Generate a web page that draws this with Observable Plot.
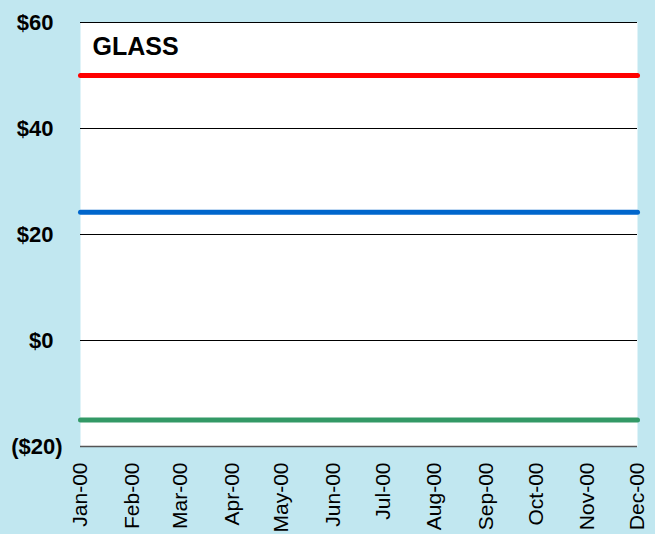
<!DOCTYPE html>
<html>
<head>
<meta charset="utf-8">
<script src="https://cdn.jsdelivr.net/npm/d3@7"></script>
<script src="https://cdn.jsdelivr.net/npm/@observablehq/plot@0.6"></script>
<style>
  html, body { margin: 0; padding: 0; background: #c1e7f0; }
  #chart svg { display: block; }
</style>
</head>
<body>
<div id="chart"></div>
<script>
const months = ["2000-01-01","2000-02-01","2000-03-01","2000-04-01","2000-05-01","2000-06-01","2000-07-01","2000-08-01","2000-09-01","2000-10-01","2000-11-01","2000-12-01"];
const monthLabels = ["Jan-00","Feb-00","Mar-00","Apr-00","May-00","Jun-00","Jul-00","Aug-00","Sep-00","Oct-00","Nov-00","Dec-00"];
const redValues   = [50,50,50,50,50,50,50,50,50,50,50,50];
const blueValues  = [24.2,24.2,24.2,24.2,24.2,24.2,24.2,24.2,24.2,24.2,24.2,24.2];
const greenValues = [-15,-15,-15,-15,-15,-15,-15,-15,-15,-15,-15,-15];
const yTicks = [-20, 0, 20, 40, 60];
const title = "GLASS";

const dates = months.map(d => new Date(d + "T00:00:00Z"));
const series = [
  {name: "s1", color: "#ff0000", values: redValues},
  {name: "s2", color: "#0066cc", values: blueValues},
  {name: "s3", color: "#339966", values: greenValues}
];
const rows = series.flatMap(s => s.values.map((v, i) => ({date: dates[i], value: v, s: s.name, c: s.color})));
const labelOf = new Map(dates.map((d, i) => [+d, monthLabels[i]]));
const fmtY = d => d < 0 ? `($${-d})` : `$${d}`;
const yOpts = {tickFormat: fmtY, tickSize: 0, fontSize: 22, fontWeight: "bold", label: null, fill: "#000"};

const chart = Plot.plot({
  width: 655,
  height: 534,
  marginLeft: 80,
  marginRight: 18,
  marginTop: 22,
  marginBottom: 88,
  style: {background: "#c1e7f0", fontFamily: "'Liberation Sans', Arial, sans-serif"},
  x: {type: "utc", domain: [dates[0], dates[dates.length - 1]]},
  y: {domain: [-20, 60]},
  marks: [
    Plot.frame({fill: "white", stroke: null}),
    Plot.ruleY(yTicks, {stroke: "#000", strokeWidth: 1}),
    Plot.ruleY([-20], {stroke: "#555", strokeWidth: 1.5}),
    Plot.line(rows, {x: "date", y: "value", z: "s", stroke: d => d.c, strokeWidth: 5, strokeLinecap: "round"}),
    Plot.axisY({...yOpts, ticks: yTicks.filter(d => d >= 0), tickPadding: 27}),
    Plot.axisY({...yOpts, ticks: yTicks.filter(d => d < 0), tickPadding: 18}),
    Plot.axisX({ticks: dates, tickFormat: d => labelOf.get(+d), tickSize: 0, tickPadding: 16, tickRotate: -90, fontSize: 21, label: null, fill: "#000"}),
    Plot.text([title], {frameAnchor: "top-left", dx: 12, dy: 24, lineAnchor: "middle", text: d => d, fontSize: 25, fontWeight: "bold", fill: "#000", textAnchor: "start"})
  ]
});
document.getElementById("chart").appendChild(chart);
</script>
</body>
</html>
